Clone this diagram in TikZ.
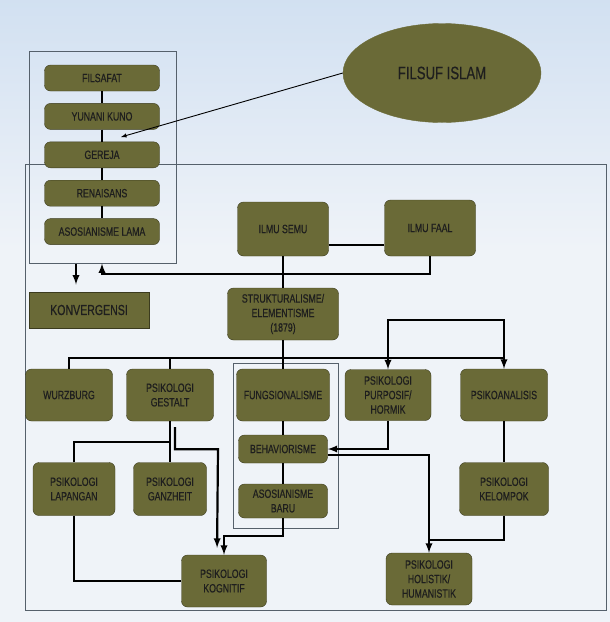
\documentclass[tikz,border=0pt]{standalone}
\usepackage{fontspec}
\setmainfont{Liberation Sans}[FakeStretch=0.73,FakeBold=0.5]
\usetikzlibrary{shapes.geometric,arrows,positioning,calc}
\definecolor{nodeolive}{HTML}{6A6A37}
\definecolor{nodeedge}{HTML}{3B3B1E}
\definecolor{nodetext}{HTML}{1E1E1E}
\definecolor{framegray}{HTML}{55606B}
\definecolor{bgtop}{HTML}{C3D7EE}
\definecolor{bgmid}{HTML}{EFF3F8}
\definecolor{bgbot}{HTML}{C9DBEE}
\pgfdeclareverticalshading{slidebg}{100bp}{color(0bp)=(bgbot); color(25bp)=(bgmid); color(55bp)=(bgmid); color(85bp)=(bgtop); color(100bp)=(bgtop)}
\tikzset
{
    topic/.style = {rectangle, rounded corners=6pt, draw=nodeedge, fill=nodeolive, text=nodetext, align=center, inner sep=0pt, font=\fontsize{12}{14.5}\selectfont},
    era/.style = {topic, minimum width=115pt, minimum height=26pt},
    groupbox/.style = {rectangle, draw=framegray, line width=1pt, inner sep=0pt},
    conn/.style = {draw=black, line width=2.2pt},
    arr/.style = {conn, -latex},
    thinarr/.style = {draw=black, line width=0.9pt, -latex}
}

\begin{document}
\begin{tikzpicture}[x=1pt, y=-1pt]
	\useasboundingbox (0,0) rectangle (610,622);
	\shade[shading=slidebg] (0,0) rectangle (610,622);
	% frames
	\node[groupbox, minimum width=147pt, minimum height=212pt] (lama) at (102.5,157) {};
	\node[groupbox, minimum width=581pt, minimum height=446pt] (main) at (315.5,387) {};
	\node[groupbox, minimum width=105pt, minimum height=165pt] (fungsibox) at (285.5,445.5) {};
	% old roots
	\node[era] (filsafat) at (102,78) {FILSAFAT};
	\node[era, below=12pt of filsafat] (yunani) {YUNANI KUNO};
	\node[era, below=12pt of yunani] (gereja) {GEREJA};
	\node[era, below=12pt of gereja] (renaisans) {RENAISANS};
	\node[era, below=12pt of renaisans] (asolama) {ASOSIANISME LAMA};
	\node[ellipse, fill=nodeolive, draw=nodeolive, text=nodetext, minimum width=198pt, minimum height=99pt, font=\fontsize{18}{20}\selectfont] (islam) at (442,73) {FILSUF ISLAM};
	\node[topic, sharp corners, minimum width=120pt, minimum height=36pt, font=\fontsize{14.5}{16}\selectfont] (konvergensi) at (89,310) {KONVERGENSI};
	% modern schools
	\node[topic, minimum width=91pt, minimum height=54pt] (semu) at (283,229) {ILMU SEMU};
	\node[topic, minimum width=91pt, minimum height=56pt] (faal) at (430,228) {ILMU FAAL};
	\node[topic, minimum width=111pt, minimum height=52pt] (struktur) at (283,314) {STRUKTURALISME/\\ELEMENTISME\\(1879)};
	\node[topic, minimum width=87pt, minimum height=52pt] (wurzburg) at (69,395) {WURZBURG};
	\node[topic, minimum width=87pt, minimum height=52pt] (gestalt) at (170,395) {PSIKOLOGI\\GESTALT};
	\node[topic, minimum width=93pt, minimum height=52pt] (fungsi) at (283,395) {FUNGSIONALISME};
	\node[topic, minimum width=86pt, minimum height=51pt] (purposif) at (388,395) {PSIKOLOGI\\PURPOSIF/\\HORMIK};
	\node[topic, minimum width=87pt, minimum height=52pt] (psikoanalisis) at (504,395) {PSIKOANALISIS};
	\node[topic, minimum width=89pt, minimum height=28pt] (beha) at (283,449) {BEHAVIORISME};
	\node[topic, minimum width=89pt, minimum height=34pt] (asobaru) at (283,501) {ASOSIANISME\\BARU};
	\node[topic, minimum width=82pt, minimum height=53pt] (lapangan) at (74,489) {PSIKOLOGI\\LAPANGAN};
	\node[topic, minimum width=73pt, minimum height=53pt] (ganzheit) at (170,489) {PSIKOLOGI\\GANZHEIT};
	\node[topic, minimum width=89pt, minimum height=53pt] (kelompok) at (504,489) {PSIKOLOGI\\KELOMPOK};
	\node[topic, minimum width=85pt, minimum height=52pt] (kognitif) at (224,581) {PSIKOLOGI\\KOGNITIF};
	\node[topic, minimum width=86pt, minimum height=52pt] (holistik) at (429,579) {PSIKOLOGI\\HOLISTIK/\\HUMANISTIK};
	% helper points
	\coordinate (islamtip) at (121,137);
	\coordinate (back) at (102,274);
	\coordinate (bus) at (504,358);
	\coordinate (brk) at (445,320);
	\coordinate (gsplit) at (170,442);
	\coordinate (kmerge) at (429,540);
	% connectors
	\draw[conn] (filsafat) -- (yunani) -- (gereja) -- (renaisans) -- (asolama);
	\draw[thinarr] (islam.west) -- (islamtip);
	\draw[arr] (lama.south -| 76,0) -- ++(0,21);
	\draw[conn] ([yshift=-16pt]semu.east) -- ([yshift=-16pt]semu.east -| faal.west);
	\draw[conn] (semu) -- (struktur);
	\draw[arr] (faal.south) |- (back) -- (back |- lama.south);
	\draw[conn] (struktur) -- (fungsi);
	\draw[conn] (wurzburg.north) |- (bus);
	\draw[conn] (gestalt.north) -- (gestalt.north |- bus);
	\draw[conn, latex-latex] (purposif.north) |- (brk) -| (psikoanalisis.north);
	\draw[conn] (fungsi) -- (beha) -- (asobaru);
	\draw[conn] (gestalt) -- (ganzheit);
	\draw[conn] (lapangan.north) |- (gsplit);
	\draw[arr, shorten >=7pt] ([xshift=5pt,yshift=-6pt]gestalt.south) |- ++(43,22) -- ([xshift=-7pt]kognitif.north);
	\draw[arr] (asobaru.south) -- ++(0,18) -| (kognitif.north);
	\draw[conn] (lapangan.south) |- (kognitif.west);
	\draw[arr] (purposif.south) |- (beha.east);
	\draw[arr] ([yshift=-6pt]beha.east) -| (holistik.north);
	\draw[conn] (psikoanalisis) -- (kelompok);
	\draw[conn] (kelompok.south) |- (kmerge);
\end{tikzpicture}
\end{document}
